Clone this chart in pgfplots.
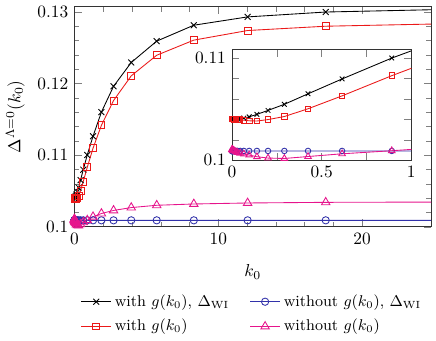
\documentclass[border=0pt]{standalone}
\usepackage{pgfplots}
\usepackage{pgfplotstable}
\pgfplotsset{compat=1.18}

\definecolor{cred}{RGB}{235,25,25}
\definecolor{cblue}{RGB}{50,50,170}
\definecolor{cmag}{RGB}{230,20,140}

% k0, with g + Delta_WI, without g + Delta_WI, with g, without g
\pgfplotstableread{
k       bw       bnw      rw       mw
0       0.10400  0.10088  0.10405  0.10105
0.0011  0.10400  0.10088  0.10405  0.10104
0.0016  0.10400  0.10088  0.10405  0.10103
0.0023  0.10400  0.10088  0.10405  0.10102
0.0034  0.10401  0.10088  0.10404  0.10100
0.0049  0.10401  0.10089  0.10404  0.10098
0.0071  0.10402  0.10089  0.10403  0.10095
0.0103  0.10402  0.10089  0.10403  0.10092
0.0149  0.10403  0.10089  0.10402  0.10088
0.0216  0.10404  0.10090  0.10401  0.10082
0.0314  0.10405  0.10090  0.10400  0.10075
0.0455  0.10407  0.10090  0.10398  0.10068
0.066   0.10413  0.10090  0.10392  0.10060
0.0958  0.10425  0.10090  0.10386  0.10050
0.139   0.10449  0.10090  0.10384  0.10033
0.201   0.10488  0.10090  0.10398  0.10020
0.292   0.10548  0.10090  0.10428  0.10016
0.424   0.10651  0.10090  0.10504  0.10035
0.614   0.10797  0.10090  0.10631  0.10062
0.891   0.11002  0.10090  0.10829  0.10092
1.293   0.11263  0.10090  0.11096  0.10140
1.876   0.11600  0.10090  0.11416  0.10185
2.72    0.11960  0.10090  0.11761  0.10228
3.95    0.12292  0.10090  0.12106  0.10268
5.72    0.12590  0.10090  0.12393  0.10300
8.30    0.12812  0.10090  0.12604  0.10318
12.04   0.12928  0.10090  0.12738  0.10332
17.47   0.12996  0.10090  0.12798  0.10341
25.3    0.13030  0.10090  0.12830  0.10345
}\datatable

\begin{document}
\begin{tikzpicture}
\begin{axis}[
  name=main,
  scale only axis,
  width=205.7pt, height=126.9pt,
  xmin=0, xmax=24.8, ymin=0.1, ymax=0.1307,
  axis line style={black!80},
  tick align=inside,
  xtick={0,10,20}, minor x tick num=4,
  ytick={0.1,0.11,0.12,0.13}, yticklabels={0.1,0.11,0.12,0.13},
  minor y tick num=4,
  xlabel={$k_0$}, ylabel={$\Delta^{\Lambda=0}(k_0)$},
  xlabel shift=5pt, ylabel shift=0.5pt,
  legend columns=2,
  legend cell align=left,
  legend style={draw=none, fill=none, font=\small,
    at={(0.5,-0.275)}, anchor=north,
    /tikz/every even column/.append style={column sep=10pt},
    row sep=2pt},
]
\addplot[black, line width=0.5pt, mark=x, mark size=2.4pt] table[x=k,y=bw] {\datatable};
\addlegendentry{with $g(k_0)$, $\Delta_{\mathrm{WI}}$}
\addplot[cblue, line width=0.5pt, mark=o, mark size=2.1pt] table[x=k,y=bnw] {\datatable};
\addlegendentry{without $g(k_0)$, $\Delta_{\mathrm{WI}}$}
\addplot[cred, line width=0.5pt, mark=square, mark size=2pt] table[x=k,y=rw] {\datatable};
\addlegendentry{with $g(k_0)$}
\addplot[cmag, line width=0.5pt, mark=triangle, mark size=2.8pt] table[x=k,y=mw] {\datatable};
\addlegendentry{without $g(k_0)$}
\end{axis}

\begin{axis}[
  at={(90.86pt,38.45pt)}, anchor=south west,
  scale only axis,
  width=103.4pt, height=64pt,
  xmin=0, xmax=1, ymin=0.1, ymax=0.1109,
  axis background/.style={fill=white},
  axis line style={black!80},
  tick align=inside,
  xtick={0,0.25,0.5,0.75,1}, xticklabels={0,,0.5,,1},
  ytick={0.1,0.102,0.104,0.106,0.108,0.11}, yticklabels={0.1,,,,,0.11},
]
\addplot[black, line width=0.5pt, mark=x, mark size=1.9pt] table[x=k,y=bw] {\datatable};
\addplot[cblue, line width=0.5pt, mark=o, mark size=1.6pt] table[x=k,y=bnw] {\datatable};
\addplot[cred, line width=0.5pt, mark=square, mark size=1.6pt] table[x=k,y=rw] {\datatable};
\addplot[cmag, line width=0.5pt, mark=triangle, mark size=2.2pt] table[x=k,y=mw] {\datatable};
\end{axis}
% small blank margin on the right, as in the reference
\path (main.south east) ++(2.8pt,0);
\end{tikzpicture}
\end{document}
